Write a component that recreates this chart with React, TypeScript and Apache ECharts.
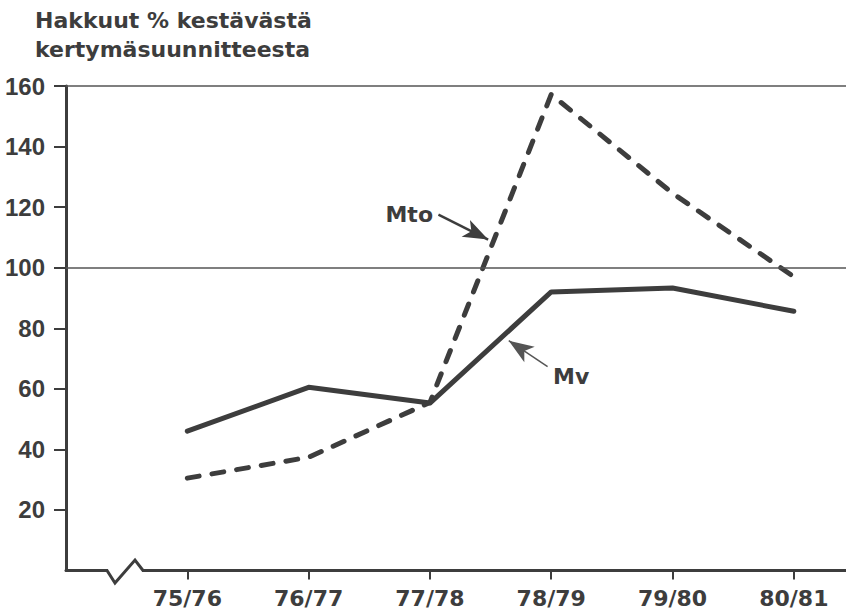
import React, { useEffect, useRef } from "react";
import * as echarts from "echarts";

const categories = ["75/76", "76/77", "77/78", "78/79", "79/80", "80/81"];
const mvValues = [46, 60.5, 55.3, 92, 93.3, 85.6];
const mtoValues = [30.5, 37.4, 55.5, 157.2, 124.6, 97];
const yTickValues = [20, 40, 60, 80, 100, 120, 140, 160];
const referenceLines = [100, 160];
const titleLines = ["Hakkuut % kestävästä", "kertymäsuunnitteesta"];
// annotation arrows in data coordinates [x index, value]
const mtoArrow = [[2.07, 117.5], [2.48, 109.3]];
const mvArrow = [[2.97, 67.3], [2.65, 75.9]];

const INK = "#3d3d3d";

export default function App() {
  const ref = useRef<HTMLDivElement>(null);
  useEffect(() => {
    document.body.style.margin = "0";
    const chart = echarts.init(ref.current!, null, { renderer: "svg" });
    const catIdx = categories.map((_, i) => i);
    const arrowLine = (pts: number[][]) => [
      { coord: pts[0], symbol: "none" },
      { coord: pts[1], symbol: "arrow", symbolSize: [14, 25] },
    ];
    chart.setOption({
      animation: false,
      backgroundColor: "#ffffff",
      grid: { left: 66, right: 0, top: 86, bottom: 43.5 },
      xAxis: {
        type: "value",
        min: -1,
        max: 5.43,
        interval: 1,
        splitLine: { show: false },
        axisLine: { show: true, lineStyle: { color: INK, width: 3 } },
        axisTick: {
          show: true,
          customValues: catIdx,
          length: 9,
          lineStyle: { color: INK, width: 2 },
        },
        axisLabel: {
          customValues: catIdx,
          formatter: (v: number) => categories[Math.round(v)] ?? "",
          fontFamily: "DejaVu Sans",
          fontWeight: "bold",
          fontSize: 22,
          color: INK,
          margin: 17,
        },
      },
      yAxis: {
        type: "value",
        min: 0,
        max: 160,
        interval: 20,
        splitLine: { show: false },
        axisLine: { show: true, onZero: false, lineStyle: { color: INK, width: 3 } },
        axisTick: {
          show: true,
          customValues: yTickValues,
          length: 12,
          lineStyle: { color: INK, width: 2 },
        },
        axisLabel: {
          customValues: yTickValues,
          fontFamily: "Liberation Sans",
          fontWeight: "bold",
          fontSize: 24,
          color: INK,
          margin: 21,
        },
      },
      series: [
        {
          name: "Mv",
          type: "line",
          data: mvValues.map((v, i) => [i, v]),
          symbol: "none",
          lineStyle: { color: INK, width: 5, cap: "round", join: "round" },
          markLine: {
            silent: true,
            symbol: "none",
            label: { show: false },
            lineStyle: { color: "#555", width: 1.5, type: "solid" },
            data: [
              ...referenceLines.map((v) => ({ yAxis: v })),
              arrowLine(mvArrow),
            ],
          },
          z: 3,
        },
        {
          name: "Mto",
          type: "line",
          data: mtoValues.map((v, i) => [i, v]),
          symbol: "none",
          lineStyle: {
            color: INK,
            width: 5,
            type: [12, 13],
            cap: "round",
            join: "round",
          },
          markLine: {
            silent: true,
            symbol: "none",
            label: { show: false },
            lineStyle: { color: INK, width: 2.5, type: "solid" },
            data: [arrowLine(mtoArrow)],
          },
          z: 3,
        },
      ],
      graphic: [
        {
          type: "rect",
          z: 100,
          shape: { x: 104, y: 566, width: 42, height: 10 },
          style: { fill: "#ffffff" },
        },
        {
          type: "polyline",
          z: 101,
          shape: {
            points: [
              [100, 570.5],
              [107, 570.5],
              [115, 583],
              [135, 560],
              [143, 570.5],
              [150, 570.5],
            ],
          },
          style: { stroke: INK, lineWidth: 3, fill: "none" },
        },
        ...titleLines.map((t, i) => ({
          type: "text",
          z: 100,
          x: 35,
          y: 20.5 + i * 29,
          style: {
            text: t,
            fontFamily: "DejaVu Sans",
            fontWeight: "bold",
            fontSize: 22,
            fill: INK,
            verticalAlign: "middle",
            align: "left",
          },
        })),
        {
          type: "text",
          z: 100,
          x: 433,
          y: 214,
          style: {
            text: "Mto",
            fontFamily: "DejaVu Sans",
            fontWeight: "bold",
            fontSize: 22,
            fill: INK,
            verticalAlign: "middle",
            align: "right",
          },
        },
        {
          type: "text",
          z: 100,
          x: 553,
          y: 376,
          style: {
            text: "Mv",
            fontFamily: "DejaVu Sans",
            fontWeight: "bold",
            fontSize: 22,
            fill: INK,
            verticalAlign: "middle",
            align: "left",
          },
        },
      ],
    });
    return () => chart.dispose();
  }, []);
  return <div ref={ref} style={{ width: 846, height: 614 }} />;
}
